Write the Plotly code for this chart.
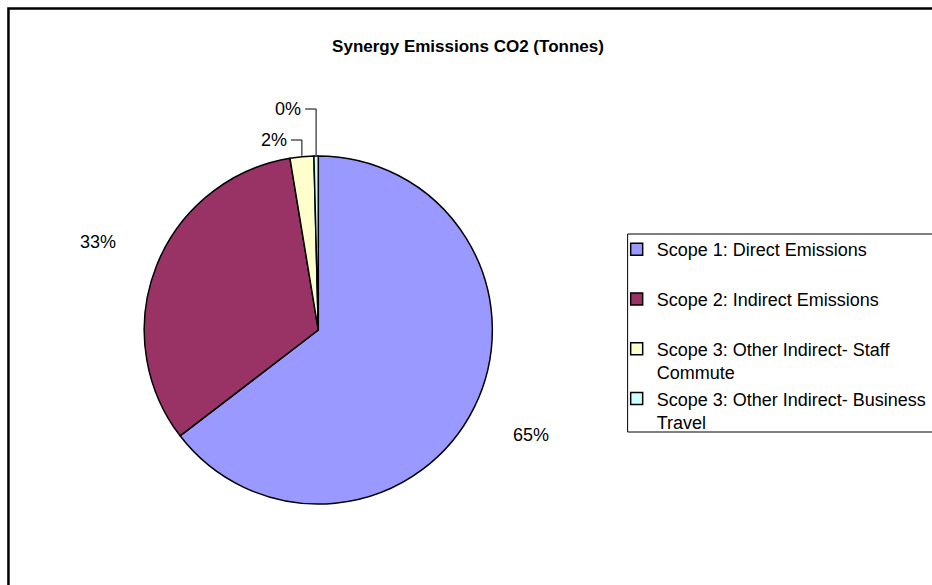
import math
import plotly.graph_objects as go

W, H = 932, 585

categories = [
    "Scope 1: Direct Emissions",
    "Scope 2: Indirect Emissions",
    "Scope 3: Other Indirect- Staff Commute",
    "Scope 3: Other Indirect- Business Travel",
]
legend_labels = [
    "Scope 1: Direct Emissions<br> ",
    "Scope 2: Indirect Emissions<br> ",
    "Scope 3: Other Indirect- Staff<br>Commute",
    "Scope 3: Other Indirect- Business<br>Travel",
]
shares = [64.6, 32.8, 2.2, 0.4]
colors = ["#9999FF", "#993366", "#FFFFCC", "#CCFFFF"]

FONT = "Arial, Liberation Sans, sans-serif"
cx, cy, r = 320, 330, 175  # pie centre and radius in pixels


def px(x):
    return x / W


def py(y):
    return 1 - y / H


fig = go.Figure(go.Pie(
    labels=legend_labels,
    values=shares,
    customdata=categories,
    sort=False,
    direction="clockwise",
    rotation=0,
    marker=dict(colors=colors, line=dict(color="black", width=1.5)),
    textinfo="none",
    hovertemplate="%{customdata}: %{value}<extra></extra>",
    domain=dict(x=[px(cx - r), px(cx + r)], y=[py(cy + r), py(cy - r)]),
))

# percentage labels derived from the data (Excel-like placement)
total = sum(shares)
annotations = []
shapes = []
cum = 0.0
small = []
for i, v in enumerate(shares):
    frac = v / total
    mid = (cum + frac / 2) * 2 * math.pi
    cum += frac
    txt = f"{round(frac * 100)}%"
    if frac >= 0.05:
        k = 1.36
        lx = cx + k * r * math.sin(mid)
        ly = cy - k * r * math.cos(mid)
        annotations.append(dict(x=px(lx), y=py(ly), xref="paper", yref="paper",
                                text=txt, showarrow=False, xanchor="center", yanchor="middle",
                                font=dict(family=FONT, size=18, color="black")))
    else:
        small.append((mid, txt))

# small slices: elbow leader lines stacked above the pie top
for j, (mid, txt) in enumerate(small):
    rx = cx + r * math.sin(mid)
    ry = cy - r * math.cos(mid)
    ly = (cy - r) - 15 - 31 * j
    hx = rx - 11
    shapes.append(dict(type="line", xref="paper", yref="paper",
                       x0=px(rx), y0=py(ry), x1=px(rx), y1=py(ly),
                       line=dict(color="black", width=1)))
    shapes.append(dict(type="line", xref="paper", yref="paper",
                       x0=px(rx), y0=py(ly), x1=px(hx), y1=py(ly),
                       line=dict(color="black", width=1)))
    annotations.append(dict(x=px(hx - 2), y=py(ly), xref="paper", yref="paper",
                            text=txt, showarrow=False, xanchor="right", yanchor="middle",
                            font=dict(family=FONT, size=18, color="black")))

# chart frame and legend box
shapes.append(dict(type="rect", xref="paper", yref="paper",
                   x0=px(8.5), x1=1.05, y0=-0.05, y1=py(8.5),
                   line=dict(color="black", width=2.5)))
shapes.append(dict(type="rect", xref="paper", yref="paper",
                   x0=px(631), x1=1.05, y0=py(432), y1=py(234),
                   line=dict(color="black", width=1)))

fig.update_layout(
    width=W, height=H,
    margin=dict(l=0, r=0, t=0, b=0),
    paper_bgcolor="white",
    font=dict(family=FONT, size=18, color="black"),
    title=dict(text="<b>Synergy Emissions CO2 (Tonnes)</b>", x=px(468), xanchor="center",
               y=py(46), yanchor="middle", font=dict(size=17, color="black")),
    legend=dict(x=px(620), xanchor="left", y=py(231), yanchor="top",
                bgcolor="rgba(0,0,0,0)", borderwidth=0,
                valign="top", font=dict(size=18, color="black")),
    annotations=annotations,
    shapes=shapes,
)

fig.write_html("out.html")
